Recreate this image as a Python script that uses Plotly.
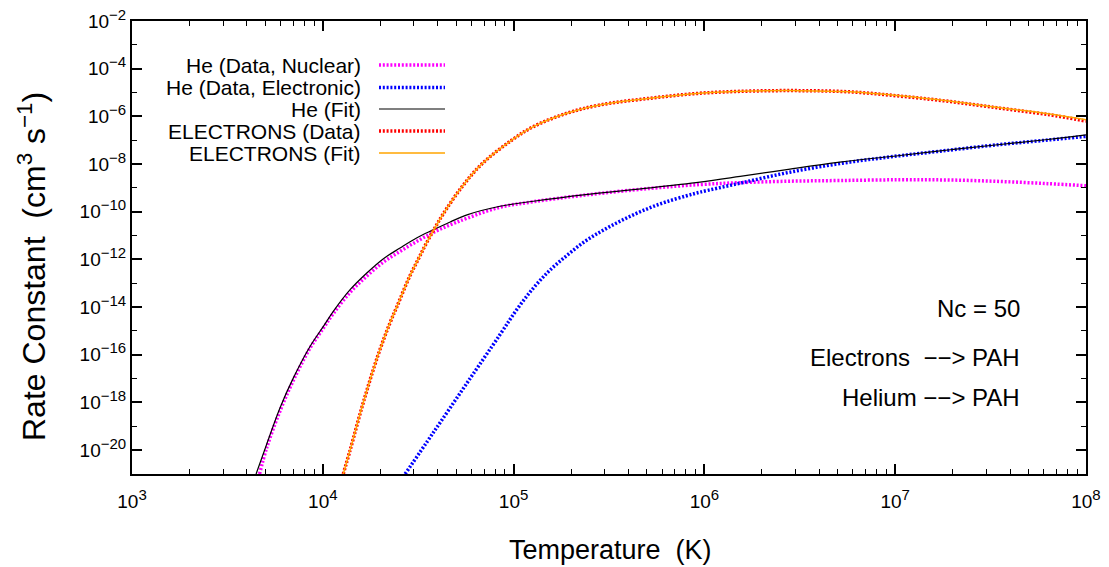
import plotly.graph_objects as go

# ---------------- data ----------------
he_nuc_T = [4.66e3, 5.08e3, 5.97e3, 7.00e3, 8.57e3, 1.007e4, 1.135e4, 1.39e4, 1.70e4, 2.07e4,
            2.54e4, 3.10e4, 3.79e4, 4.65e4, 5.75e4, 8.49e4, 1.27e5, 2.32e5, 5.19e5, 9.48e5,
            1.54e6, 2.81e6, 5.13e6, 1.06e7, 1.95e7, 3.55e7, 6.31e7, 1.0e8]
he_nuc_k = [1.0e-21, 1.26e-20, 4.47e-19, 8.32e-18, 1.91e-16, 1.32e-15, 5.37e-15, 4.17e-14, 2.0e-13, 7.59e-13,
            2.19e-12, 5.62e-12, 1.35e-11, 2.82e-11, 5.50e-11, 1.55e-10, 2.63e-10, 4.90e-10, 9.55e-10, 1.38e-9,
            1.66e-9, 1.91e-9, 2.04e-9, 2.19e-9, 2.14e-9, 1.86e-9, 1.51e-9, 1.23e-9]

he_ele_T = [2.70e4, 3.79e4, 5.68e4, 8.49e4, 1.04e5, 1.27e5, 1.55e5, 1.90e5, 2.32e5, 2.84e5,
            3.47e5, 4.24e5, 5.19e5, 6.34e5, 8.07e5, 9.48e5, 1.54e6, 2.81e6, 5.13e6, 9.40e6,
            1.72e7, 3.55e7, 6.31e7, 1.0e8]
he_ele_k = [1.0e-21, 5.37e-20, 6.31e-18, 7.08e-16, 7.94e-15, 6.31e-14, 3.55e-13, 1.45e-12, 5.13e-12, 1.41e-11,
            3.39e-11, 7.41e-11, 1.48e-10, 2.63e-10, 4.68e-10, 6.61e-10, 1.58e-9, 4.57e-9, 1.05e-8, 2.0e-8,
            3.47e-8, 6.61e-8, 1.02e-7, 1.45e-7]

he_fit_T = [4.47e3, 5.08e3, 5.97e3, 7.00e3, 8.57e3, 1.007e4, 1.135e4, 1.39e4, 1.70e4, 2.07e4,
            2.54e4, 3.10e4, 3.79e4, 4.65e4, 5.75e4, 8.49e4, 1.27e5, 2.32e5, 5.19e5, 9.48e5,
            1.54e6, 2.81e6, 5.13e6, 1.06e7, 1.95e7, 3.55e7, 6.31e7, 1.0e8]
he_fit_k = [1.0e-21, 1.78e-20, 6.03e-19, 1.05e-17, 2.24e-16, 1.55e-15, 6.61e-15, 5.37e-14, 2.69e-13, 1.05e-12,
            3.02e-12, 7.94e-12, 1.74e-11, 3.72e-11, 7.59e-11, 1.70e-10, 2.75e-10, 5.13e-10, 1.0e-9, 1.74e-9,
            3.02e-9, 6.17e-9, 1.20e-8, 2.29e-8, 3.98e-8, 6.61e-8, 1.07e-7, 1.66e-7]

el_dat_T = [1.28e4, 1.39e4, 1.63e4, 1.95e4, 2.25e4, 2.44e4, 2.86e4, 3.16e4, 3.50e4, 3.95e4,
            4.27e4, 5.31e4, 6.81e4, 9.77e4, 1.27e5, 1.90e5, 2.84e5, 5.19e5, 9.48e5, 1.74e6,
            3.16e6, 5.75e6, 1.06e7, 1.95e7, 3.55e7, 6.31e7, 1.0e8]
el_dat_k = [1.0e-21, 1.0e-20, 1.0e-18, 1.0e-16, 2.19e-15, 1.0e-14, 2.04e-13, 1.0e-12, 5.01e-12, 2.82e-11,
            7.94e-11, 1.0e-9, 1.0e-8, 1.0e-7, 3.72e-7, 1.35e-6, 3.02e-6, 5.75e-6, 9.33e-6, 1.15e-5,
            1.20e-5, 1.07e-5, 7.08e-6, 4.17e-6, 2.19e-6, 1.20e-6, 6.31e-7]

el_fit_T = [1.28e4, 1.39e4, 1.63e4, 1.95e4, 2.25e4, 2.44e4, 2.86e4, 3.16e4, 3.50e4, 3.95e4,
            4.27e4, 5.31e4, 6.81e4, 9.77e4, 1.27e5, 1.90e5, 2.84e5, 5.19e5, 9.48e5, 1.74e6,
            3.16e6, 5.75e6, 1.06e7, 1.95e7, 3.55e7, 6.31e7, 1.0e8]
el_fit_k = [1.0e-21, 1.0e-20, 1.0e-18, 1.0e-16, 2.19e-15, 1.0e-14, 2.04e-13, 1.0e-12, 5.01e-12, 2.82e-11,
            7.94e-11, 1.0e-9, 1.0e-8, 1.0e-7, 3.72e-7, 1.35e-6, 3.02e-6, 5.75e-6, 9.33e-6, 1.15e-5,
            1.20e-5, 1.07e-5, 7.24e-6, 4.27e-6, 2.29e-6, 1.29e-6, 7.2e-7]

x_tickvals = [1e3, 1e4, 1e5, 1e6, 1e7, 1e8]
x_ticktext = ["3", "4", "5", "6", "7", "8"]
y_tickvals = [1e-2, 1e-4, 1e-6, 1e-8, 1e-10, 1e-12, 1e-14, 1e-16, 1e-18, 1e-20]
y_ticktext = ["\u22122", "\u22124", "\u22126", "\u22128", "\u221210", "\u221212",
              "\u221214", "\u221216", "\u221218", "\u221220"]

legend_labels = ["He (Data, Nuclear)", "He (Data, Electronic)", "He (Fit)",
                 "ELECTRONS (Data)", "ELECTRONS (Fit)"]
notes = ["Nc = 50", "Electrons\u00a0\u00a0\u2212\u2212> PAH", "Helium \u2212\u2212> PAH"]

FONT = "Liberation Sans, Arial, Helvetica, sans-serif"
DOT = "2px,1.8px"
SUP = 15


def pow_label(e):
    return "10<sup><span style='font-size:%dpx'>%s</span></sup>" % (SUP, e)


styles = [
    dict(color="#FF00FF", width=3.5, dash=DOT),
    dict(color="#0000FF", width=3.5, dash=DOT),
    dict(color="#000000", width=1.2, dash="solid"),
    dict(color="#FF0000", width=3.5, dash=DOT),
    dict(color="#FFA500", width=1.5, dash="solid"),
]
series = [(he_nuc_T, he_nuc_k), (he_ele_T, he_ele_k), (he_fit_T, he_fit_k),
          (el_dat_T, el_dat_k), (el_fit_T, el_fit_k)]

fig = go.Figure()
for (T, k), st, name in zip(series, styles, legend_labels):
    fig.add_trace(go.Scatter(x=T, y=k, mode="lines", name=name, hoverinfo="skip",
                             line=dict(shape="spline", smoothing=1.0, **st), showlegend=False))

FIG_W, FIG_H = 1109, 567
L, R, TOP, BOT = 132.0, 1086.0, 21.0, 474.0   # plot area in window pixels
W, H = R - L, BOT - TOP


def px(x):
    return (x - L) / W


def py(y):
    return (BOT - y) / H


row_y = [65, 87.5, 109, 131, 153]
annotations = []
shapes = []
for lab, st, yy in zip(legend_labels, styles, row_y):
    annotations.append(dict(text=lab, x=px(363), y=py(yy), xref="paper", yref="paper",
                            xanchor="right", yanchor="middle", showarrow=False,
                            font=dict(family=FONT, size=21, color="black")))
    shapes.append(dict(type="line", xref="paper", yref="paper", x0=px(379), x1=px(445),
                       y0=py(yy), y1=py(yy), line=st))

for txt, yy in zip(notes, [308, 357, 397]):
    annotations.append(dict(text=txt, x=px(1022), y=py(yy), xref="paper", yref="paper",
                            xanchor="right", yanchor="middle", showarrow=False,
                            font=dict(family=FONT, size=24, color="black")))

annotations.append(dict(text="Temperature\u00a0\u00a0(K)", x=px(610), y=py(550), xref="paper", yref="paper",
                        xanchor="center", yanchor="middle", showarrow=False,
                        font=dict(family=FONT, size=27, color="black")))
annotations.append(dict(text="Rate Constant\u00a0\u00a0(cm<sup>3</sup> s<sup>\u22121</sup>)",
                        x=px(32), y=py(267), xref="paper", yref="paper", textangle=-90,
                        xanchor="center", yanchor="middle", showarrow=False,
                        font=dict(family=FONT, size=32, color="black")))

axis_common = dict(type="log", showline=True, linecolor="black", linewidth=2, mirror="ticks",
                   ticks="inside", ticklen=10, tickwidth=1.5, tickcolor="black",
                   showgrid=False, zeroline=False, tickmode="array", ticklabeloverflow="allow",
                   automargin=False,
                   tickfont=dict(family=FONT, size=19, color="black"))

fig.update_layout(
    width=FIG_W, height=FIG_H,
    margin=dict(l=L, r=FIG_W - R, t=TOP, b=FIG_H - BOT, autoexpand=False),
    paper_bgcolor="white", plot_bgcolor="white",
    font=dict(family=FONT, color="black"),
    hovermode=False,
    xaxis=dict(range=[2.9999, 8.0001], tickvals=x_tickvals, ticktext=[pow_label(t) for t in x_ticktext],
               ticklabelstandoff=9,
               minor=dict(ticks="inside", ticklen=5, tickwidth=1.2, tickcolor="black", dtick="D1"),
               **axis_common),
    yaxis=dict(range=[-21, -1.9999], tickvals=y_tickvals, ticktext=[pow_label(t) for t in y_ticktext],
               minor=dict(ticks="inside", ticklen=5, tickwidth=1.2, tickcolor="black", dtick=1),
               **axis_common),
    annotations=annotations,
    shapes=shapes,
    showlegend=False,
)

# remove the browser's default 8px body margin so the figure fills the window exactly
fig.write_html("out.html", config={"displayModeBar": False},
               post_script="document.body.style.margin='0px';document.body.style.overflow='hidden';")
